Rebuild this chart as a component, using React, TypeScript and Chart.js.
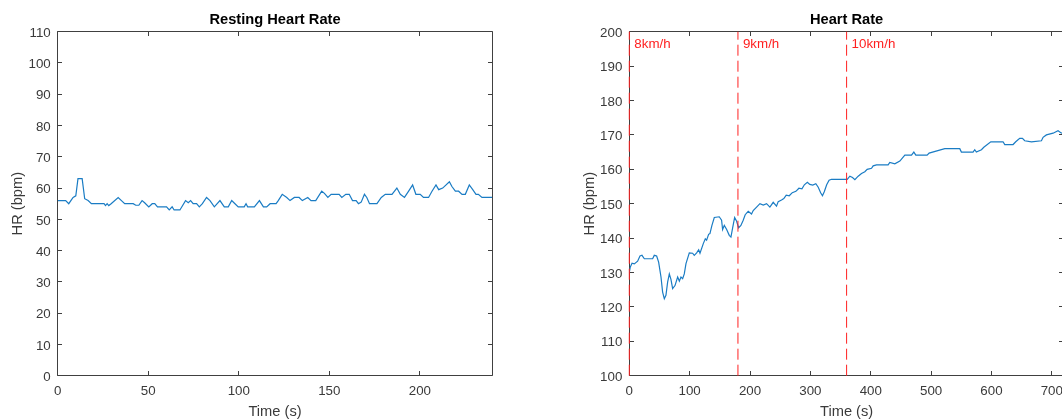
import React, { useEffect, useRef } from 'react';
import { Chart, registerables } from 'chart.js';

Chart.register(...registerables);

const FONT = '"Liberation Sans", Arial, Helvetica, sans-serif';
const AXIS_COLOR = '#3a3a3a';
const BOX_COLOR = '#404040';
const LINE_BLUE = '#1a7cc4';
const MARK_RED = '#ff2020';

// Resting recording (seconds, beats per minute)
const restTime = [0, 4.4, 6.1, 8.5, 10, 11.2, 13.5, 14.9, 16.8, 18.6, 25.6, 26.4, 27.3, 28.2, 29.5, 33.4, 35.2, 37, 41.7, 43.1, 44.8, 46.6, 48, 50.3, 52.2, 53.6, 55.1, 60.1, 61.6, 63.2, 64.3, 67.5, 70.6, 72.1, 73.4, 74.8, 76.7, 78.2, 79.9, 82.2, 84.1, 86.5, 89.6, 92, 94.2, 96.1, 97.9, 99.7, 103, 104, 104.9, 108.6, 111.4, 113.6, 115.4, 117.3, 120.6, 121.8, 124, 126.5, 128.3, 130.7, 133.3, 135.1, 138.1, 139.9, 142.5, 145.8, 147.3, 149.2, 151, 155.4, 156.9, 159.1, 161, 162.8, 164.8, 166.1, 167.6, 169.4, 170.7, 172.2, 173.5, 176.3, 178.7, 180.9, 184.6, 187.3, 189.2, 191.5, 193.8, 196, 197.8, 200.2, 202, 204.8, 206.7, 208.9, 210.4, 212.6, 216.3, 217.7, 219.6, 221.4, 223.3, 225.1, 227.3, 229.2, 231, 232.3, 234.3, 240];
const restBpm = [56, 56, 55, 57, 57.5, 63, 63, 56.6, 56, 55, 55, 54.4, 55, 54.4, 55, 57, 56, 55, 55, 54.5, 54.5, 56, 55.3, 54, 55, 55, 54, 54, 53, 54, 53, 53, 56, 55.3, 56, 55, 55, 54, 55, 57, 56, 54, 56, 54, 54, 56, 55, 54, 54, 55, 54, 54, 56, 54, 54, 55, 55, 56, 58, 57, 56, 57, 57, 56, 57, 56, 56, 59, 58.3, 57, 58, 58, 57, 58, 58, 56, 56, 55, 55.5, 58, 57, 55, 55, 55, 57, 58, 58, 60, 58, 57, 59, 61, 58, 58, 57, 57, 59, 61, 59.5, 60, 62, 60.5, 59, 59, 58, 58, 61, 59.5, 58, 58, 57, 57];

// Running recording (seconds, beats per minute)
const runTime = [0, 1.5, 4.5, 8.3, 13.8, 17.7, 21, 24.9, 38.7, 41.4, 45.3, 48.6, 52.5, 55.2, 58, 60.7, 63.5, 66.3, 69, 71.8, 75.7, 80.1, 82.9, 85.6, 88.4, 91.1, 93.9, 99.4, 104.9, 107.6, 111.6, 114.9, 117.1, 122.6, 125.9, 128.1, 131.4, 133.6, 136.9, 140.8, 149, 152.9, 154.6, 157.4, 161.3, 165.6, 168.4, 171.2, 174.5, 177.8, 181.1, 184.9, 188.7, 192, 197, 202.5, 205.3, 210.9, 216.4, 221.9, 227.4, 232.9, 238.4, 243.9, 246.7, 252.2, 256, 260, 265, 270, 276, 281, 286, 290, 295, 299, 304, 309, 313, 317, 320, 323, 327, 331, 335, 348.8, 361, 365.4, 369.8, 373.7, 379.2, 384.7, 390.2, 394.1, 401.3, 404, 409.6, 428.8, 431.6, 439.9, 448.2, 456.5, 467.5, 471.4, 474.7, 493.4, 496.7, 522.7, 547.5, 550.2, 569.5, 572.3, 575, 583.4, 587.3, 598.9, 619.2, 622, 635.8, 640.2, 646.8, 651.3, 655.1, 666.2, 682.8, 685.5, 691, 702.1, 710.3, 715.9, 720];
const runBpm = [130, 131.5, 132.7, 132.5, 133.3, 134.8, 135, 134, 134, 135, 134.8, 133, 128.7, 124.3, 122.4, 123.4, 127.2, 129.6, 128, 125.3, 126.2, 128.7, 127.5, 128.7, 128.2, 129.6, 132.6, 135.7, 135.6, 135, 135.7, 136.6, 135.6, 138.4, 139.8, 139.4, 141.1, 141.3, 143.7, 146, 146.2, 145.2, 142.5, 143.7, 142.5, 140.8, 140.3, 143, 146, 144.9, 143, 143.7, 145.2, 146.8, 147.8, 147, 148, 149, 150, 149.6, 150, 149, 150.4, 149.3, 150.6, 151.1, 151.5, 152.5, 152.3, 153.2, 153.6, 154.5, 154.3, 155.5, 156.2, 155.6, 155.4, 155.8, 154.8, 153.2, 152.3, 153.5, 155.5, 156.8, 157.1, 157.1, 157.1, 158, 157.6, 157, 158, 158.8, 159.3, 160, 160.3, 161, 161.3, 161.3, 162, 161.6, 162.4, 164.1, 164.1, 165, 164.1, 164.1, 164.7, 166, 166, 165, 165, 165.7, 165, 165.7, 166.4, 168, 168, 167.2, 167.2, 168, 169, 169, 168.3, 168, 168.3, 169.3, 170, 170.5, 171.2, 170.5, 170.8];

// Speed stage changes during the run
const speedTimes = [0, 180, 360];
const speedLabels = ['8km/h', '9km/h', '10km/h'];

// Axis ranges and tick steps
const restXRange = [0, 240];
const restXStep = 50;
const restYRange = [0, 110];
const runXRange = [0, 720];
const runXStep = 100;
const runYRange = [100, 200];
const yStep = 10;

const crisp = (v: number) => Math.round(v - 0.5) + 0.5;

// Box around the plot area with inward tick marks on all four sides
const boxedAxes = {
  id: 'boxedAxes',
  beforeDatasetsDraw(chart: any) {
    const { ctx, chartArea: a, scales } = chart;
    const xs = scales.x;
    const ys = scales.y;
    const L = crisp(a.left);
    const R = crisp(a.right);
    const T = crisp(a.top);
    const B = crisp(a.bottom);
    const len = 4.5;
    ctx.save();
    ctx.strokeStyle = BOX_COLOR;
    ctx.lineWidth = 1;
    ctx.beginPath();
    ctx.rect(L, T, R - L, B - T);
    xs.ticks.forEach((t: any) => {
      const px = crisp(xs.getPixelForValue(t.value));
      ctx.moveTo(px, B);
      ctx.lineTo(px, B - len);
      ctx.moveTo(px, T);
      ctx.lineTo(px, T + len);
    });
    ys.ticks.forEach((t: any) => {
      const py = crisp(ys.getPixelForValue(t.value));
      ctx.moveTo(L, py);
      ctx.lineTo(L + len, py);
      ctx.moveTo(R, py);
      ctx.lineTo(R - len, py);
    });
    ctx.stroke();
    ctx.restore();
  },
};

// Speed labels next to each stage marker
const stageLabels = {
  id: 'stageLabels',
  afterDatasetsDraw(chart: any) {
    const { ctx, chartArea: a, scales } = chart;
    ctx.save();
    ctx.fillStyle = MARK_RED;
    ctx.font = `13.33px ${FONT}`;
    ctx.textAlign = 'left';
    ctx.textBaseline = 'alphabetic';
    speedTimes.forEach((t, i) => {
      const px = scales.x.getPixelForValue(t);
      ctx.fillText(speedLabels[i], px + 5, a.top + 16);
    });
    ctx.restore();
  },
};

type PanelSpec = {
  title: string;
  xRange: number[];
  xStep: number;
  yRange: number[];
  time: number[];
  bpm: number[];
  yAxisWidth: number;
  padRight: number;
  markers: boolean;
};

function buildConfig(spec: PanelSpec): any {
  const hrPoints = spec.time.map((t, i) => ({ x: t, y: spec.bpm[i] }));
  const datasets: any[] = [];
  if (spec.markers) {
    speedTimes.forEach((t) => {
      datasets.push({
        data: [
          { x: t, y: spec.yRange[0] },
          { x: t, y: spec.yRange[1] },
        ],
        borderColor: MARK_RED,
        borderWidth: 1,
        borderDash: [11, 5],
        pointRadius: 0,
        fill: false,
        tension: 0,
        clip: false,
        order: 0,
      });
    });
  }
  datasets.push({
    data: hrPoints,
    borderColor: LINE_BLUE,
    borderWidth: 1.2,
    pointRadius: 0,
    fill: false,
    tension: 0,
    order: 1,
  });

  const tickFont = { size: 13.33, family: FONT };
  const labelFont = { size: 14.67, family: FONT };

  return {
    type: 'line',
    data: { datasets },
    options: {
      responsive: false,
      animation: false,
      events: [],
      layout: { padding: { left: 0, right: spec.padRight, top: 0, bottom: 0 } },
      plugins: {
        legend: { display: false },
        tooltip: { enabled: false },
        title: {
          display: true,
          fullSize: false,
          text: spec.title,
          color: '#000000',
          font: { size: 14.67, weight: 'bold', family: FONT },
          padding: { top: 11.5, bottom: 2.6 },
        },
      },
      scales: {
        x: {
          type: 'linear',
          min: spec.xRange[0],
          max: spec.xRange[1],
          grid: { display: false, drawTicks: false },
          border: { display: false },
          ticks: {
            stepSize: spec.xStep,
            includeBounds: false,
            autoSkip: false,
            maxRotation: 0,
            padding: 8,
            color: AXIS_COLOR,
            font: tickFont,
          },
          title: {
            display: true,
            text: 'Time (s)',
            color: AXIS_COLOR,
            font: labelFont,
            padding: { top: 0, bottom: -1.5 },
          },
          afterFit: (s: any) => {
            s.height = 43.3;
            s.paddingLeft = 0;
            s.paddingRight = 0;
          },
        },
        y: {
          type: 'linear',
          min: spec.yRange[0],
          max: spec.yRange[1],
          grid: { display: false, drawTicks: false },
          border: { display: false },
          ticks: {
            stepSize: yStep,
            autoSkip: false,
            padding: 7,
            labelOffset: 1.5,
            color: AXIS_COLOR,
            font: tickFont,
          },
          title: {
            display: true,
            text: 'HR (bpm)',
            color: AXIS_COLOR,
            font: labelFont,
            padding: { top: 9, bottom: 0 },
          },
          afterFit: (s: any) => {
            s.width = spec.yAxisWidth;
            s.paddingTop = 0;
            s.paddingBottom = 0;
          },
        },
      },
    },
    plugins: spec.markers ? [boxedAxes, stageLabels] : [boxedAxes],
  };
}

function Panel({ spec, left, width }: { spec: PanelSpec; left: number; width: number }) {
  const ref = useRef<HTMLCanvasElement | null>(null);
  useEffect(() => {
    if (!ref.current) return;
    const chart = new Chart(ref.current, buildConfig(spec));
    return () => chart.destroy();
  }, [spec]);
  return (
    <canvas
      ref={ref}
      width={width}
      height={419}
      style={{ position: 'absolute', left, top: 0, width, height: 419, display: 'block' }}
    />
  );
}

const restSpec: PanelSpec = {
  title: 'Resting Heart Rate',
  xRange: restXRange,
  xStep: restXStep,
  yRange: restYRange,
  time: restTime,
  bpm: restBpm,
  yAxisWidth: 57.7,
  padRight: 37.7,
  markers: false,
};

const runSpec: PanelSpec = {
  title: 'Heart Rate',
  xRange: runXRange,
  xStep: runXStep,
  yRange: runYRange,
  time: runTime,
  bpm: runBpm,
  yAxisWidth: 57.3,
  padRight: 8.1,
  markers: true,
};

export default function App() {
  return (
    <div
      style={{
        position: 'absolute',
        left: 0,
        top: 0,
        width: 1062,
        height: 419,
        overflow: 'hidden',
        background: '#ffffff',
      }}
    >
      <Panel spec={restSpec} left={0} width={530} />
      <Panel spec={runSpec} left={572} width={500} />
    </div>
  );
}
